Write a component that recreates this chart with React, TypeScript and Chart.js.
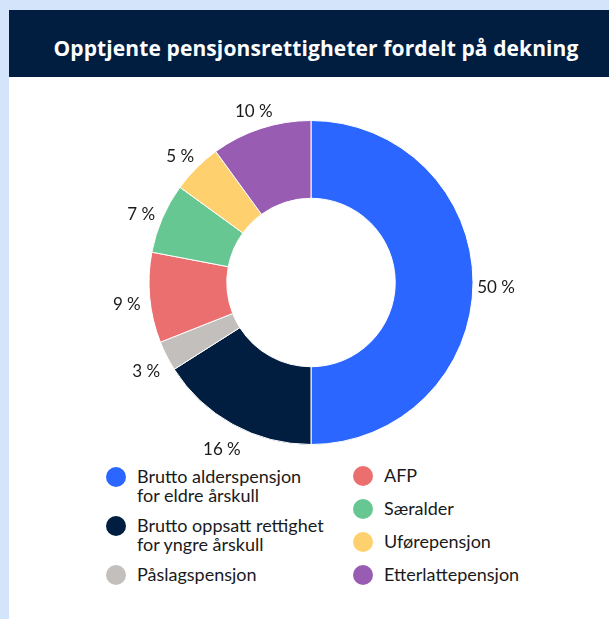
import React, { useEffect, useRef } from "react";
import { Chart, registerables } from "chart.js";

Chart.register(...registerables);

const TITLE = "Opptjente pensjonsrettigheter fordelt på dekning";

const categories = [
  "Brutto alderspensjon\nfor eldre årskull",
  "Brutto oppsatt rettighet\nfor yngre årskull",
  "Påslagspensjon",
  "AFP",
  "Særalder",
  "Uførepensjon",
  "Etterlattepensjon",
];

const values = [50, 16, 3, 9, 7, 5, 10];

const colors = [
  "#2a66ff",
  "#011e41",
  "#c2bfbc",
  "#ec6f6f",
  "#66c792",
  "#ffd06e",
  "#985db2",
];

const FONT = "Lato, 'Source Sans Pro', sans-serif";
const TITLE_FONT = "'Open Sans', sans-serif";

const labelPlugin = {
  id: "pctLabels",
  afterDatasetsDraw(chart: any) {
    const meta = chart.getDatasetMeta(0);
    const ctx = chart.ctx;
    ctx.save();
    ctx.font = `17px ${FONT}`;
    ctx.fillStyle = "#1a1a1a";
    ctx.textAlign = "center";
    ctx.textBaseline = "middle";
    meta.data.forEach((arc: any, i: number) => {
      const p = arc.getProps(["startAngle", "endAngle", "outerRadius", "x", "y"], true);
      const mid = (p.startAngle + p.endAngle) / 2;
      const r = p.outerRadius + 23;
      ctx.fillText(`${values[i]} %`, p.x + Math.cos(mid) * r, p.y + 5 + Math.sin(mid) * r);
    });
    ctx.restore();
  },
};

function LegendItem({ idx }: { idx: number }) {
  return (
    <div style={{ display: "flex", alignItems: "flex-start" }}>
      <div
        style={{
          width: 20,
          height: 20,
          borderRadius: "50%",
          background: colors[idx],
          flex: "0 0 auto",
        }}
      />
      <div style={{ marginLeft: 11, whiteSpace: "pre-line", lineHeight: "19px", marginTop: 0 }}>
        {categories[idx]}
      </div>
    </div>
  );
}

export default function App() {
  const ref = useRef<HTMLCanvasElement | null>(null);

  useEffect(() => {
    document.body.style.margin = "0";
    document.body.style.background = "#d4e5fb";
    const chart = new Chart(ref.current as HTMLCanvasElement, {
      type: "doughnut",
      data: {
        labels: categories.map((c) => c.replace("\n", " ")),
        datasets: [
          {
            data: values,
            backgroundColor: colors,
            borderColor: "#ffffff",
            borderWidth: 1,
            hoverOffset: 0,
          },
        ],
      },
      options: {
        responsive: false,
        animation: false,
        cutout: "52%",
        layout: { padding: { left: 4, right: 0, top: 43, bottom: 15 } },
        plugins: {
          legend: { display: false },
          tooltip: { enabled: false },
          title: { display: false },
        },
      },
      plugins: [labelPlugin],
    });
    return () => chart.destroy();
  }, []);

  const col1 = [0, 1, 2];
  const col2 = [3, 4, 5, 6];

  return (
    <div
      style={{
        position: "absolute",
        left: 9,
        top: 10,
        width: 600,
        height: 609,
        background: "#ffffff",
        fontFamily: FONT,
      }}
    >
      <div
        style={{
          height: 67,
          background: "#011e41",
          color: "#ffffff",
          fontWeight: 700,
          fontFamily: TITLE_FONT,
          fontSize: 21,
          letterSpacing: 0.1,
          whiteSpace: "nowrap",
          textAlign: "center",
          boxSizing: "border-box",
          paddingLeft: 14,
          paddingTop: 26,
          lineHeight: "24px",
        }}
      >
        {TITLE}
      </div>
      <canvas ref={ref} width={600} height={383} style={{ display: "block" }} />
      <div style={{ position: "relative", height: 150, fontSize: 18, color: "#1a1a1a" }}>
        <div
          style={{
            position: "absolute",
            left: 97,
            top: 7,
            display: "flex",
            flexDirection: "column",
            gap: 11,
          }}
        >
          {col1.map((i) => (
            <LegendItem key={i} idx={i} />
          ))}
        </div>
        <div
          style={{
            position: "absolute",
            left: 344,
            top: 6,
            display: "flex",
            flexDirection: "column",
            gap: 13,
          }}
        >
          {col2.map((i) => (
            <LegendItem key={i} idx={i} />
          ))}
        </div>
      </div>
    </div>
  );
}
